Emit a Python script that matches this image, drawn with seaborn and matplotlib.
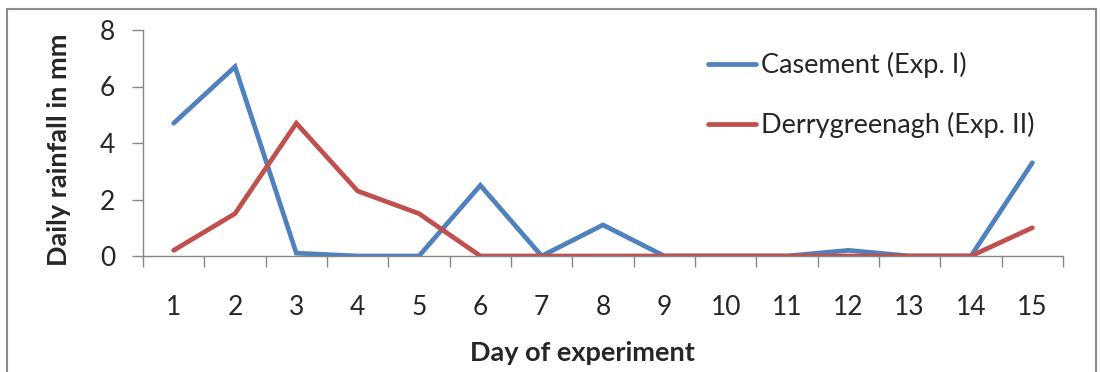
import numpy as np
import pandas as pd
import matplotlib
matplotlib.use('Agg')
import matplotlib.pyplot as plt
import seaborn as sns
from matplotlib.patches import Rectangle

# Data
days = list(range(1, 16))
casement = [4.7, 6.7, 0.1, 0.0, 0.0, 2.5, 0.0, 1.1, 0.0, 0.0, 0.0, 0.2, 0.0, 0.0, 3.3]
derrygreenagh = [0.2, 1.5, 4.7, 2.3, 1.5, 0.0, 0.0, 0.0, 0.0, 0.0, 0.0, 0.0, 0.0, 0.0, 1.0]
series_names = ['Casement (Exp. I)', 'Derrygreenagh (Exp. II)']
y_ticks = [0, 2, 4, 6, 8]

df = pd.DataFrame({
    'Day': days * 2,
    'Rainfall': casement + derrygreenagh,
    'Site': [series_names[0]] * len(days) + [series_names[1]] * len(days),
})

sns.set_style('white')
plt.rcParams['font.family'] = ['Lato', 'DejaVu Sans']

fig = plt.figure(figsize=(11.01, 3.72), dpi=100)
ax = fig.add_axes([143 / 1101, 1 - 256 / 372, 920 / 1101, 226 / 372])

# Gray border around the chart area
fig.patches.append(Rectangle((7 / 1101, -0.05), 1089 / 1101, 1 - 9 / 372 + 0.05,
                             transform=fig.transFigure, fill=False,
                             edgecolor='#8c8c8c', linewidth=1.5))

sns.lineplot(data=df, x='Day', y='Rainfall', hue='Site',
             palette=['#4F81BD', '#C0504D'], linewidth=3.4, ax=ax,
             legend=False, solid_joinstyle='miter', solid_capstyle='round')

ax.set_xlim(0.5, 15.5)
ax.set_ylim(0, 8)
ax.set_yticks(y_ticks)
ax.set_xticks(days)
ax.set_xticks(np.arange(0.5, 16, 1), minor=True)
ax.tick_params(axis='x', which='major', length=0, pad=28, labelsize=19)
ax.tick_params(axis='x', which='minor', length=8, width=1, color='#868686',
               direction='out', bottom=True)
ax.tick_params(axis='y', length=8, width=1, color='#868686', direction='out',
               left=True, labelsize=19, pad=12)

for s in ['top', 'right']:
    ax.spines[s].set_visible(False)
for s in ['left', 'bottom']:
    ax.spines[s].set_color('#868686')
    ax.spines[s].set_linewidth(1)

ax.set_xlabel('')
ax.set_ylabel('Daily rainfall in mm', fontsize=19.5, fontweight='bold')
ax.yaxis.set_label_coords(-72 / 920, 0.47)
fig.text(582 / 1101, 1 - 353 / 372, 'Day of experiment', fontsize=19.5,
         fontweight='bold', ha='center', va='center')

# Legend
handles = [plt.Line2D([], [], color=c, linewidth=3.4, solid_capstyle='round')
           for c in ['#4F81BD', '#C0504D']]
fig.legend(handles, series_names, loc='upper left',
           bbox_to_anchor=(684 / 1101, 1 - 28 / 372), frameon=False,
           fontsize=19.5, handlelength=1.75, handletextpad=0.2, labelspacing=1.25)

fig.savefig('out.png', dpi=100)
